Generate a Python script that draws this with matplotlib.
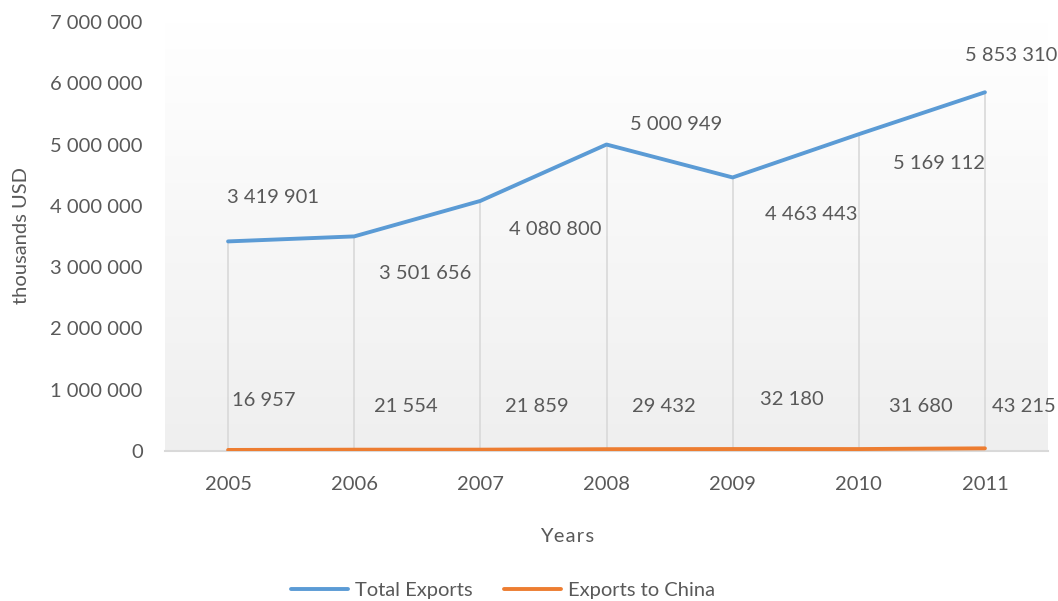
import numpy as np
import matplotlib
matplotlib.use("Agg")
from matplotlib import pyplot as plt

years = ["2005", "2006", "2007", "2008", "2009", "2010", "2011"]
total_exports = [3419901, 3501656, 4080800, 5000949, 4463443, 5169112, 5853310]
china_exports = [16957, 21554, 21859, 29432, 32180, 31680, 43215]

# label offsets (pixels) from each point, as placed in the original
total_offsets = [(45, 44), (71, -37), (75, -29), (70, 20), (79, -37), (80, -29), (26, 37)]
china_offsets = [(36, 49), (52, 43), (56, 43), (57, 43), (59, 50), (62, 43), (39, 42)]

blue = "#5b9bd5"
orange = "#ed7d31"
txt = "#595959"
grey = "#d9d9d9"

plt.rcParams["font.family"] = ["Lato", "DejaVu Sans"]
fs = 14.5

W, H = 1058, 601
fig = plt.figure(figsize=(W / 100, H / 100), dpi=100)
ax = fig.add_axes([165 / W, 1 - 451 / H, (1048 - 165) / W, (451 - 22) / H])

x = np.arange(len(years))
ax.set_xlim(-0.5, len(years) - 0.5)

# plot area gradient, white at top to light grey at bottom
grad = np.linspace(1, 0, 256).reshape(-1, 1)
cmap = matplotlib.colors.LinearSegmentedColormap.from_list("g", ["#efefef", "#ffffff"])
ax.imshow(grad, aspect="auto", cmap=cmap, extent=(-0.5, len(years) - 0.5, 0, 7000000),
          origin="upper", zorder=0, vmin=0, vmax=1)
ax.set_ylim(0, 7000000)

# drop lines
ax.vlines(x, 0, total_exports, color=grey, lw=1.2, zorder=1)

ax.plot(x, total_exports, color=blue, lw=2.8, solid_capstyle="round", zorder=3, label="Total Exports")
ax.plot(x, china_exports, color=orange, lw=2.8, solid_capstyle="round", zorder=3, label="Exports to China")

def fmt(v):
    return f"{v:,}".replace(",", " ")

for xi, v, (dx, dy) in zip(x, total_exports, total_offsets):
    ax.annotate(fmt(v), (xi, v), xytext=(dx * 0.72, dy * 0.72), textcoords="offset points",
                ha="center", va="center", fontsize=fs, color=txt, annotation_clip=False)
for xi, v, (dx, dy) in zip(x, china_exports, china_offsets):
    ax.annotate(fmt(v), (xi, v), xytext=(dx * 0.72, dy * 0.72), textcoords="offset points",
                ha="center", va="center", fontsize=fs, color=txt, annotation_clip=False)

ax.set_xticks(x)
ax.set_xticklabels(years)
ax.set_yticks(np.arange(0, 7000001, 1000000))
ax.set_yticklabels([fmt(v) for v in range(0, 7000001, 1000000)])
ax.tick_params(axis="both", length=0, labelsize=fs, colors=txt)
ax.tick_params(axis="x", pad=18)
ax.tick_params(axis="y", pad=16)

for s in ["top", "right", "left"]:
    ax.spines[s].set_visible(False)
ax.spines["bottom"].set_color(grey)
ax.spines["bottom"].set_linewidth(1.5)
ax.spines["bottom"].set_zorder(2)

fig.text(22 / W, 1 - 236 / H, "thousands USD", rotation=90, ha="center", va="center",
         fontsize=fs, color=txt)
fig.text(567 / W, 1 - 536 / H, "Y e a r s".replace(" ", "\u200a"), ha="center", va="center",
         fontsize=fs, color=txt)

fig.legend(loc="center", bbox_to_anchor=(503 / W, 1 - 590 / H), ncol=2, frameon=False,
           fontsize=fs, labelcolor=txt, handlelength=2.8, handletextpad=0.35,
           columnspacing=1.6)

fig.savefig("out.png", dpi=100)
